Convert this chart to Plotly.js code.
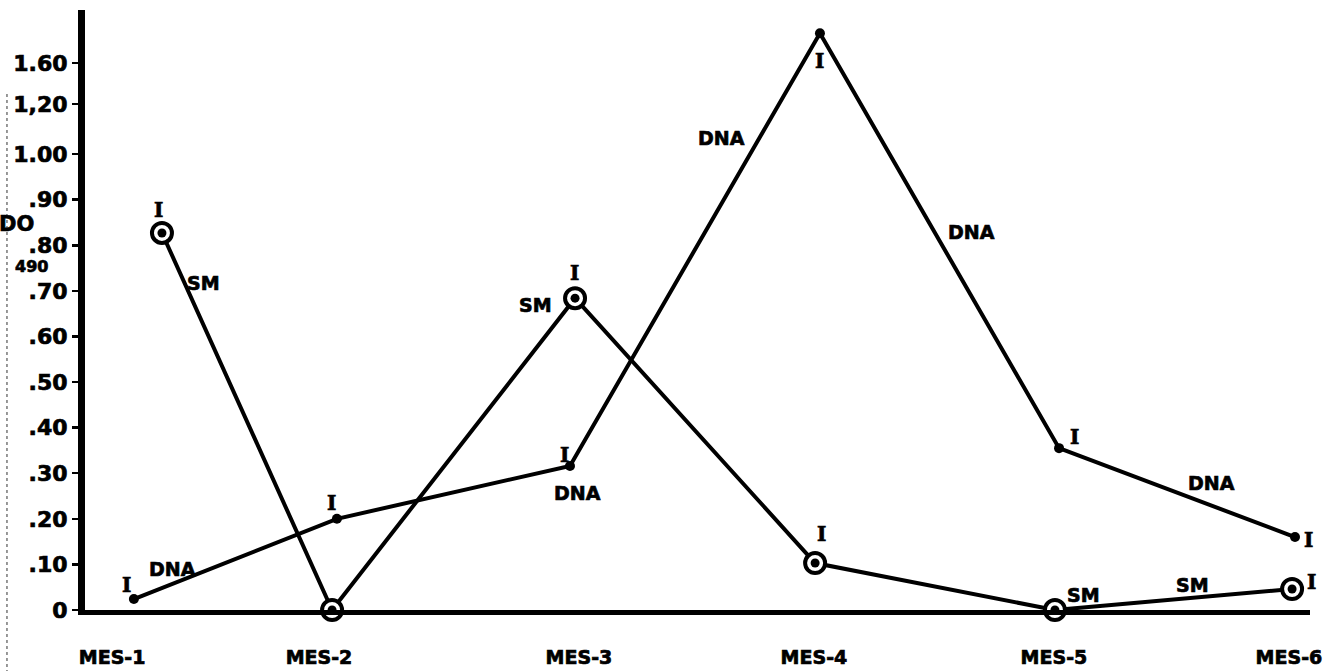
<!DOCTYPE html>
<html>
<head>
<meta charset="utf-8">
<script src="https://cdn.plot.ly/plotly-3.0.1.min.js"></script>
<style>
  html, body { margin: 0; padding: 0; background: #ffffff; }
  #chart { width: 1328px; height: 671px; }
  #chart .xtick text, #chart .ytick text, #chart .annotation-text {
    stroke: #000; stroke-width: 0.7px; paint-order: stroke;
  }
</style>
</head>
<body>
<div id="chart"></div>
<script>
// ---- Data ----
var monthLabels = ['MES-1', 'MES-2', 'MES-3', 'MES-4', 'MES-5', 'MES-6'];
var monthPos    = [0.996, 1.851, 2.925, 3.896, 4.888, 5.859];

// DNA series (filled dots)
var dnaX = [1.086, 1.925, 2.888, 3.921, 4.909, 5.884];
var dnaY = [0.024, 0.200, 0.316, 1.265, 0.355, 0.160];

// SM series (ringed dots)
var smX = [1.202, 1.905, 2.909, 3.901, 4.892, 5.872];
var smY = [0.827, 0.000, 0.684, 0.103, 0.000, 0.046];

// y-axis tick labels (hand-drawn axis, upper part compressed)
var yTickVals = [0, 0.1, 0.2, 0.3, 0.4, 0.5, 0.6, 0.7, 0.8, 0.9, 1.0, 1.11, 1.20];
var yTickText = ['0', '.10', '.20', '.30', '.40', '.50', '.60', '.70', '.80', '.90', '1.00', '1,20', '1.60'];

// series labels written along the lines
var dnaLabelX = [1.244, 2.921, 3.516, 4.549, 5.541];
var dnaLabelY = [0.090, 0.257, 1.035, 0.829, 0.279];
var smLabelX  = [1.372, 2.744, 5.012, 5.462];
var smLabelY  = [0.717, 0.669, 0.033, 0.055];

// "I" error glyph offsets (pixels) for each point; null = no glyph
var dnaErrShift = [[-7, 14], [-5, 16], [-5, 11], [0, -28], [15, 11], [13, -3]];
var smErrShift  = [[-3, 23], null, [-1, 25], [6, 29], null, [19, 7]];

// ---- Traces ----
var lineStyle = {color: '#000', width: 4};
var traces = [
  {
    x: dnaX, y: dnaY, type: 'scatter', mode: 'lines+markers', name: 'DNA',
    line: lineStyle, marker: {color: '#000', size: 10}, cliponaxis: false
  },
  {
    x: smX, y: smY, type: 'scatter', mode: 'lines', name: 'SM',
    line: lineStyle, cliponaxis: false
  },
  {
    x: smX, y: smY, type: 'scatter', mode: 'markers', name: 'SM ring',
    marker: {symbol: 'circle', size: 20, color: '#fff', line: {color: '#000', width: 4}},
    cliponaxis: false
  },
  {
    x: smX, y: smY, type: 'scatter', mode: 'markers', name: 'SM dot',
    marker: {color: '#000', size: 9}, cliponaxis: false
  }
];

// ---- Annotations ----
var annos = [];
var labFont = {family: 'DejaVu Sans', size: 19, color: '#000', weight: 'bold'};
dnaLabelX.forEach(function (x, i) {
  annos.push({x: x, y: dnaLabelY[i], xref: 'x', yref: 'y', text: 'DNA', showarrow: false, font: labFont});
});
smLabelX.forEach(function (x, i) {
  annos.push({x: x, y: smLabelY[i], xref: 'x', yref: 'y', text: 'SM', showarrow: false, font: labFont});
});
var errFont = {family: 'DejaVu Serif', size: 20, color: '#000', weight: 'bold'};
function addErr(xs, ys, shifts) {
  xs.forEach(function (x, i) {
    var s = shifts[i];
    if (!s) return;
    annos.push({x: x, y: ys[i], xref: 'x', yref: 'y', text: 'I', showarrow: false,
      xshift: s[0], yshift: s[1], font: errFont});
  });
}
addErr(dnaX, dnaY, dnaErrShift);
addErr(smX, smY, smErrShift);

// y-axis title (D.O. at 490 nm)
annos.push({x: -0.0404, y: 0.643, xref: 'paper', yref: 'paper', xanchor: 'right', yanchor: 'middle',
  text: 'DO', showarrow: false, font: {family: 'DejaVu Sans', size: 21, color: '#000', weight: 'bold'}});
annos.push({x: -0.0433, y: 0.572, xref: 'paper', yref: 'paper', xanchor: 'center', yanchor: 'middle',
  text: '490', showarrow: false, font: {family: 'DejaVu Sans', size: 16, color: '#000', weight: 'bold'}});

var layout = {
  width: 1328, height: 671,
  margin: {l: 85, r: 18, t: 10, b: 61},
  paper_bgcolor: '#ffffff', plot_bgcolor: '#ffffff',
  showlegend: false,
  xaxis: {
    range: [0.884, 5.946],
    showgrid: false, zeroline: false,
    showline: true, linecolor: '#000', linewidth: 5,
    tickmode: 'array', tickvals: monthPos, ticktext: monthLabels,
    ticks: '', ticklabelstandoff: 26,
    tickfont: {family: 'DejaVu Sans', size: 19, color: '#000', weight: 'bold'}
  },
  yaxis: {
    range: [0, 1.316],
    showgrid: false, zeroline: false,
    showline: true, linecolor: '#000', linewidth: 7,
    tickmode: 'array', tickvals: yTickVals, ticktext: yTickText,
    ticks: 'outside', ticklen: 6, tickwidth: 2.5, tickcolor: '#000',
    ticklabelstandoff: 0,
    tickfont: {family: 'DejaVu Sans', size: 22, color: '#000', weight: 'bold'}
  },
  annotations: annos,
  shapes: [
    {type: 'line', xref: 'paper', yref: 'paper', x0: -0.0637, x1: -0.0637, y0: 0.86, y1: -0.102,
     line: {color: '#777', width: 1.5, dash: 'dot'}}
  ]
};

Plotly.newPlot('chart', traces, layout, {displayModeBar: false, staticPlot: true});
</script>
</body>
</html>
